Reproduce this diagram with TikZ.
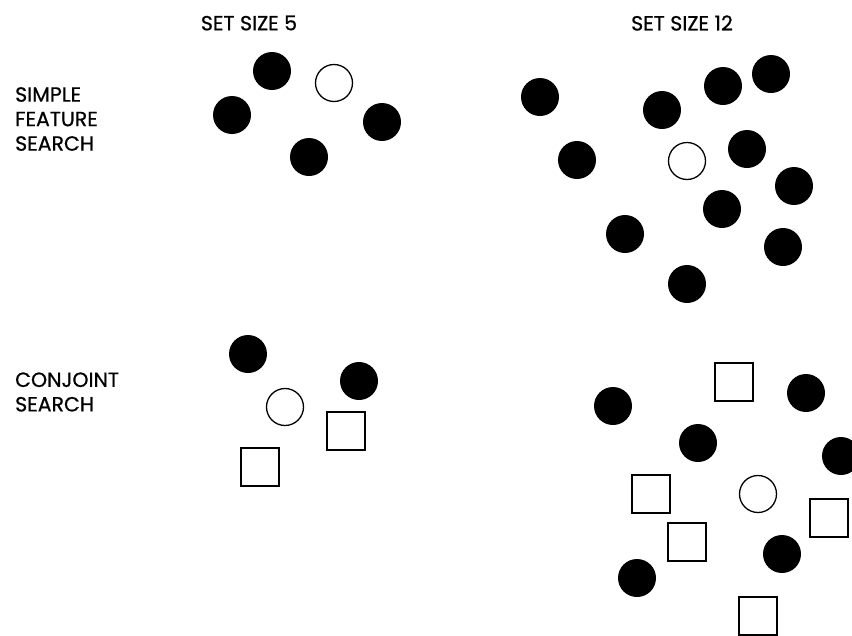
\documentclass[tikz,border=0pt]{standalone}
\usepackage{fontspec}
\setmainfont{Poppins}
\newfontfamily\lblfont{Poppins}[FakeBold=0.7]
\begin{document}
\begin{tikzpicture}[x=1pt,y=-1pt,
  dot/.style={circle,fill=black,inner sep=0pt,minimum size=38pt},
  target/.style={circle,draw=black,line width=1.3pt,fill=white,inner sep=0pt,minimum size=37pt},
  sq/.style={rectangle,draw=black,line width=1.2pt,inner sep=0pt,minimum size=38pt},
  lbl/.style={inner sep=0pt,align=left,font=\lblfont\fontsize{20.5}{24.5}\selectfont},
  hdr/.style={inner sep=0pt,font=\lblfont\fontsize{20.5}{24}\selectfont}]
\clip (0,0) rectangle (852,635);
\fill[white] (0,0) rectangle (852,635);
% headers
\node[hdr] (h5) at (249,23) {SET SIZE 5};
\node[hdr] (h12) at (682,23) {SET SIZE 12};
% row labels
\node[lbl,anchor=west] (lsimple) at (15,119) {SIMPLE\\FEATURE\\SEARCH};
\node[lbl,anchor=west] (lconj) at (15,392) {CONJOINT\\SEARCH};
% simple, set size 5
\node[dot] (a1) at (272,71) {};
\node[target] (a0) at (334,83) {};
\node[dot] (a2) at (232,115) {};
\node[dot] (a3) at (382,122) {};
\node[dot] (a4) at (309,157) {};
% simple, set size 12
\node[dot] (b1) at (540,97) {};
\node[dot] (b2) at (662,110) {};
\node[dot] (b3) at (723,86) {};
\node[dot] (b4) at (771,74) {};
\node[dot] (b5) at (577,160) {};
\node[target] (b0) at (687,161) {};
\node[dot] (b6) at (747,149) {};
\node[dot] (b7) at (794,186) {};
\node[dot] (b8) at (722,209) {};
\node[dot] (b9) at (625,234) {};
\node[dot] (b10) at (783,247) {};
\node[dot] (b11) at (687,284) {};
% conjoint, set size 5
\node[dot] (c1) at (248,354) {};
\node[dot] (c2) at (359,381) {};
\node[target] (c0) at (285,407) {};
\node[sq] (c3) at (346,431) {};
\node[sq] (c4) at (260,467) {};
% conjoint, set size 12
\node[sq] (d1) at (734,382) {};
\node[dot] (d2) at (806,393) {};
\node[dot] (d3) at (613,406) {};
\node[dot] (d4) at (698,443) {};
\node[dot] (d5) at (841,456) {};
\node[sq] (d6) at (651,494) {};
\node[target] (d0) at (758,494) {};
\node[sq] (d7) at (829,518) {};
\node[sq] (d8) at (687,542) {};
\node[dot] (d9) at (782,554) {};
\node[dot] (d10) at (637,578) {};
\node[sq] (d11) at (758,616) {};
\end{tikzpicture}
\end{document}
